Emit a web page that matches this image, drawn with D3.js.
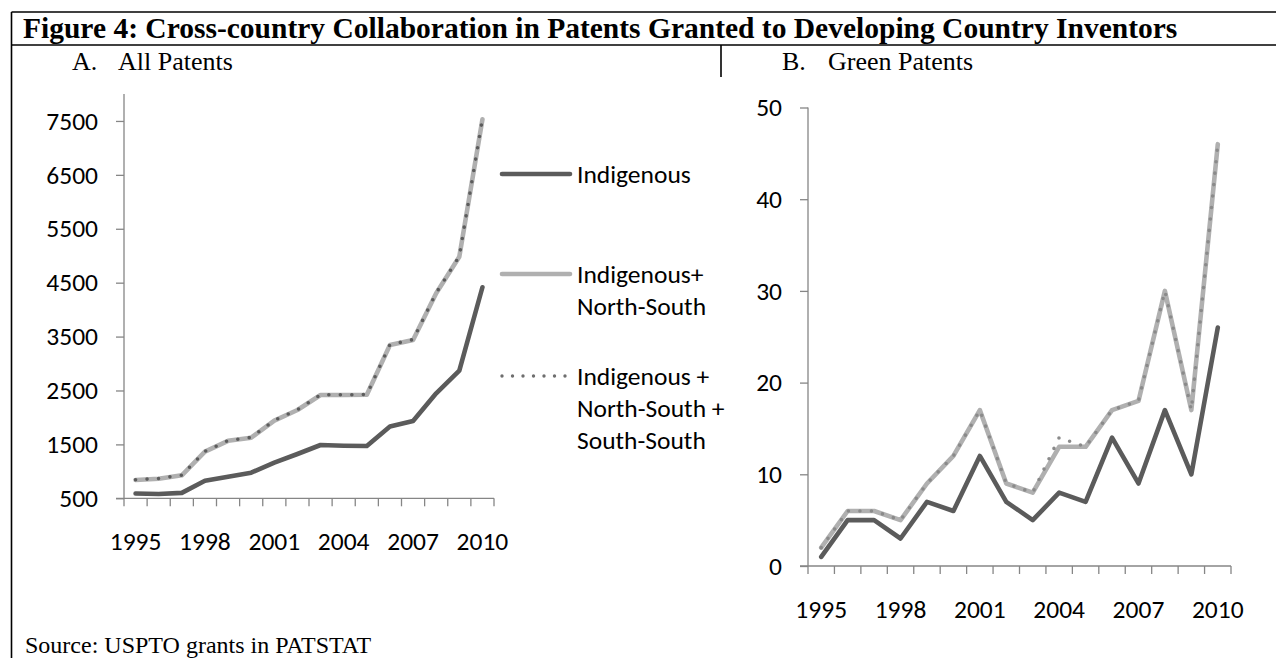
<!DOCTYPE html>
<html>
<head>
<meta charset="utf-8">
<script src="https://cdn.jsdelivr.net/npm/d3@7"></script>
<style>
  html, body { margin: 0; padding: 0; background: #fff; }
  svg { display: block; }
</style>
</head>
<body>
<svg id="chart" width="1276" height="658"></svg>
<script>
// ---------------- data ----------------
const years = [1995, 1996, 1997, 1998, 1999, 2000, 2001, 2002, 2003, 2004, 2005, 2006, 2007, 2008, 2009, 2010];
const xTickLabels = [1995, 1998, 2001, 2004, 2007, 2010];

const allIndigenous  = [590, 580, 600, 826, 901, 975, 1160, 1322, 1489, 1476, 1470, 1830, 1935, 2448, 2868, 4415];
const allNorthSouth  = [840, 864, 927, 1365, 1566, 1625, 1940, 2138, 2416, 2416, 2420, 3344, 3437, 4303, 4982, 7531];
const allSouthSouth  = [845, 868, 930, 1370, 1570, 1630, 1945, 2142, 2420, 2420, 2425, 3350, 3445, 4310, 4990, 7540];
const allYTicks = [500, 1500, 2500, 3500, 4500, 5500, 6500, 7500];

const greenIndigenous = [1, 5, 5, 3, 7, 6, 12, 7, 5, 8, 7, 14, 9, 17, 10, 26];
const greenNorthSouth = [2, 6, 6, 5, 9, 12, 17, 9, 8, 13, 13, 17, 18, 30, 17, 46];
const greenSouthSouth = [2, 6, 6, 5, 9, 12, 17, 9, 8, 14, 13, 17, 18, 30, 17, 46];
const greenYTicks = [0, 10, 20, 30, 40, 50];

const legendItems = [
  { key: "ind", lines: ["Indigenous"] },
  { key: "ns",  lines: ["Indigenous+", "North-South"] },
  { key: "ss",  lines: ["Indigenous +", "North-South +", "South-South"] }
];

const titleText = "Figure 4: Cross-country Collaboration in Patents Granted to Developing Country Inventors";
const panelA = ["A.", "All Patents"];
const panelB = ["B.", "Green Patents"];
const sourceText = "Source: USPTO grants in PATSTAT";

// ---------------- styles ----------------
const serif = "'Times New Roman', 'Liberation Serif', Times, serif";
const sans = "Carlito, Calibri, Lato, sans-serif";
const axisColor = "#868686";
const darkColor = "#5b5b5b";
const lightColor = "#b0b0b0";
const labelSize = 25.5;

const svg = d3.select("#chart");

// ---------------- frame & header ----------------
svg.append("line").attr("x1", 11.5).attr("x2", 1276).attr("y1", 12).attr("y2", 12)
  .attr("stroke", "#000").attr("stroke-width", 1.6);
svg.append("line").attr("x1", 11.5).attr("x2", 1276).attr("y1", 45).attr("y2", 45)
  .attr("stroke", "#000").attr("stroke-width", 1.6);
svg.append("line").attr("x1", 11.5).attr("x2", 11.5).attr("y1", 12).attr("y2", 658)
  .attr("stroke", "#000").attr("stroke-width", 1.6);
svg.append("line").attr("x1", 721).attr("x2", 721).attr("y1", 45).attr("y2", 77)
  .attr("stroke", "#000").attr("stroke-width", 1.6);

svg.append("text").attr("x", 23).attr("y", 38)
  .attr("font-family", serif).attr("font-weight", "bold").attr("font-size", 29.5)
  .attr("fill", "#000").text(titleText);

svg.append("text").attr("x", 72).attr("y", 70).attr("font-family", serif).attr("font-size", 26).text(panelA[0]);
svg.append("text").attr("x", 118).attr("y", 70).attr("font-family", serif).attr("font-size", 26).text(panelA[1]);
svg.append("text").attr("x", 782).attr("y", 70).attr("font-family", serif).attr("font-size", 26).text(panelB[0]);
svg.append("text").attr("x", 828).attr("y", 70).attr("font-family", serif).attr("font-size", 26).text(panelB[1]);

svg.append("text").attr("x", 25).attr("y", 653).attr("font-family", serif).attr("font-size", 24).text(sourceText);

// ---------------- chart helper ----------------
function drawChart(cfg) {
  const g = svg.append("g");
  const x = d3.scaleBand().domain(years).range([cfg.x0, cfg.x1]);
  const y = d3.scaleLinear().domain(cfg.yDomain).range([cfg.y0, cfg.y1]);
  const cx = d => x(d) + x.bandwidth() / 2;

  // y axis
  const yAxis = d3.axisLeft(y).tickValues(cfg.yTicks).tickSize(8).tickPadding(18).tickFormat(d3.format("d"));
  const ya = g.append("g").attr("transform", `translate(${cfg.x0},0)`).call(yAxis);
  ya.select(".domain").remove();
  ya.selectAll(".tick line").attr("stroke", axisColor).attr("stroke-width", 1.3);
  ya.selectAll(".tick text").attr("font-family", sans).attr("font-size", labelSize).attr("fill", "#000");
  g.append("line").attr("x1", cfg.x0).attr("x2", cfg.x0).attr("y1", cfg.y1).attr("y2", cfg.y0)
    .attr("stroke", axisColor).attr("stroke-width", 1.3);

  // x axis (ticks between categories)
  const xa = g.append("g").attr("transform", `translate(0,${cfg.y0})`);
  xa.append("line").attr("x1", cfg.x0 - 8).attr("x2", cfg.x1).attr("y1", 0).attr("y2", 0)
    .attr("stroke", axisColor).attr("stroke-width", 1.3);
  const bounds = years.map(d => x(d)).concat([cfg.x1]);
  xa.selectAll("line.tk").data(bounds).join("line").attr("class", "tk")
    .attr("x1", d => d).attr("x2", d => d).attr("y1", 0).attr("y2", 8)
    .attr("stroke", axisColor).attr("stroke-width", 1.3);
  xa.selectAll("text").data(xTickLabels).join("text")
    .attr("x", d => cx(d)).attr("y", 52).attr("text-anchor", "middle")
    .attr("font-family", sans).attr("font-size", labelSize).attr("fill", "#000").text(d => d);

  const line = d3.line().x((d, i) => cx(years[i])).y(d => y(d));
  g.append("path").datum(cfg.ind).attr("d", line).attr("fill", "none")
    .attr("stroke", darkColor).attr("stroke-width", 4.6).attr("stroke-linejoin", "round").attr("stroke-linecap", "round");
  g.append("path").datum(cfg.ns).attr("d", line).attr("fill", "none")
    .attr("stroke", lightColor).attr("stroke-width", 4.6).attr("stroke-linejoin", "round").attr("stroke-linecap", "round");
  g.append("path").datum(cfg.ss).attr("d", line).attr("fill", "none")
    .attr("stroke", cfg.dotColor).attr("stroke-width", 3.6).attr("stroke-dasharray", "0 11.5")
    .attr("stroke-linejoin", "round").attr("stroke-linecap", "round");
}

drawChart({ x0: 124, x1: 494, y0: 498.3, y1: 94, yDomain: [500, 8000], yTicks: allYTicks,
  ind: allIndigenous, ns: allNorthSouth, ss: allSouthSouth, dotColor: "#5c5c5c" });
drawChart({ x0: 808, x1: 1231, y0: 566, y1: 107.5, yDomain: [0, 50], yTicks: greenYTicks,
  ind: greenIndigenous, ns: greenNorthSouth, ss: greenSouthSouth, dotColor: "#8a8a8a" });

// ---------------- legend ----------------
const legY = [174, 274, 376];
const lg = svg.append("g");
legendItems.forEach((it, i) => {
  const ly = legY[i];
  const ln = lg.append("line").attr("x1", 502).attr("x2", 570).attr("y1", ly).attr("y2", ly)
    .attr("stroke-linecap", "round");
  if (it.key === "ind") ln.attr("stroke", darkColor).attr("stroke-width", 4.6);
  else if (it.key === "ns") ln.attr("stroke", lightColor).attr("stroke-width", 4.6);
  else ln.attr("stroke", "#6e6e6e").attr("stroke-width", 3.4).attr("stroke-dasharray", "0 10.5");
  it.lines.forEach((t, j) => {
    lg.append("text").attr("x", 577).attr("y", ly + j * 32).attr("dy", "0.35em")
      .attr("font-family", sans).attr("font-size", labelSize).attr("fill", "#000").text(t);
  });
});
</script>
</body>
</html>
